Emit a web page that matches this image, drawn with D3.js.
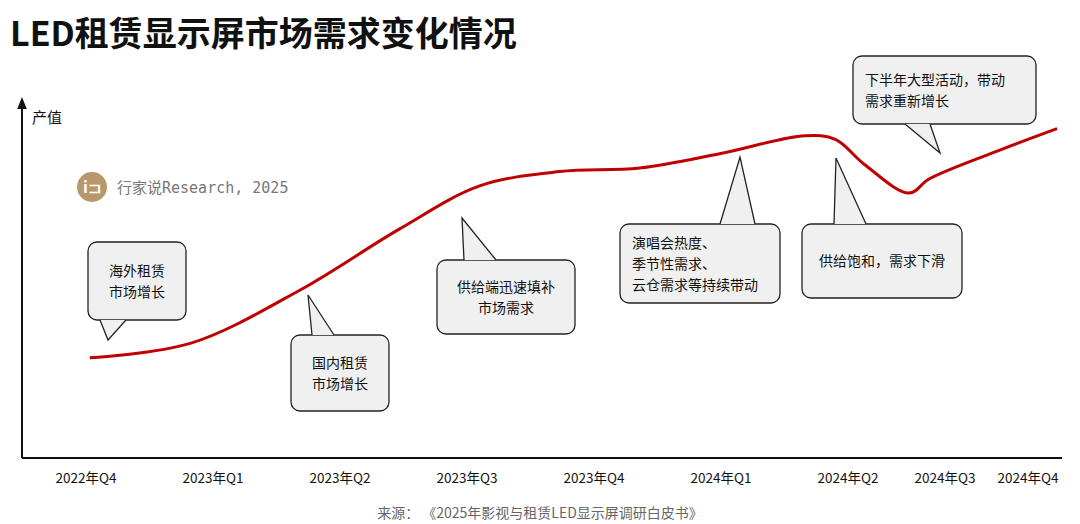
<!DOCTYPE html>
<html><head><meta charset="utf-8">
<script src="https://cdn.jsdelivr.net/npm/d3@7"></script>
<style>body{margin:0;background:#fff;font-family:"Noto Sans CJK SC","Noto Sans",sans-serif}</style>
</head><body><div id="c"></div>
<script>
const quarters = ["2022年Q4","2023年Q1","2023年Q2","2023年Q3","2023年Q4","2024年Q1","2024年Q2","2024年Q3","2024年Q4"];
// quarter index (fractional) and relative output value
const qPos = [0.03,0.82,1.69,2.47,3.1,3.73,4.36,4.99,5.66,5.9,6.17,6.63,6.84,7.66,8.35];
const output = [28,32,47,64,76,80,81,85,90,89,82,74,78,86,92];
const notes = [
  {lines:["海外租赁","市场增长"], box:[88,242,98,78], tail:[[100,320],[126,320],[108,340]]},
  {lines:["国内租赁","市场增长"], box:[291,335,98,76], tail:[[312,335],[334,335],[308,295]]},
  {lines:["供给端迅速填补","市场需求"], box:[437,260,138,74], tail:[[464,260],[496,260],[462,218]]},
  {lines:["演唱会热度、","季节性需求、","云仓需求等持续带动"], box:[620,224,160,79], tail:[[720,224],[755,224],[740,157]]},
  {lines:["供给饱和，需求下滑"], box:[802,224,160,74], tail:[[834,224],[866,224],[836,158]]},
  {lines:["下半年大型活动，带动","需求重新增长"], box:[853,56,183,68], tail:[[905,124],[930,124],[940,153]]}
];
const W=1080,H=524;
const svg=d3.select("#c").append("svg").attr("width",W).attr("height",H);
const x=d3.scaleLinear().domain(d3.range(9)).range([86,213,340,467,594,721,848,945,1028]);
const y=d3.scaleLinear().domain([0,100]).range([458,100]);

svg.append("text").attr("x",10).attr("y",46).attr("font-size",34).attr("font-weight",700)
  .attr("fill","#111").text("LED租赁显示屏市场需求变化情况");

// axes
svg.append("defs").append("marker").attr("id","ar").attr("viewBox","0 0 10 10").attr("refX",5).attr("refY",5)
  .attr("markerWidth",6).attr("markerHeight",8).attr("orient","auto")
  .append("path").attr("d","M0,1L10,5L0,9z").attr("fill","#111");
svg.append("line").attr("x1",22).attr("x2",22).attr("y1",458).attr("y2",103).attr("stroke","#111").attr("stroke-width",2).attr("marker-end","url(#ar)");
svg.append("line").attr("x1",22).attr("x2",1062).attr("y1",458).attr("y2",458).attr("stroke","#111").attr("stroke-width",2);
svg.append("text").attr("x",32).attr("y",123).attr("font-size",15).attr("fill","#111").text("产值");
svg.selectAll(".tk").data(quarters).join("text").attr("x",(d,i)=>x(i)).attr("y",483)
  .attr("text-anchor","middle").attr("font-size",13.5).attr("fill","#111").text(d=>d);

// watermark logo
svg.append("circle").attr("cx",92).attr("cy",187).attr("r",15).attr("fill","#b8976a");
svg.append("text").attr("x",92).attr("y",193).attr("text-anchor","middle").attr("font-size",16).attr("font-weight",700).attr("fill","#fff").text("i⊐");
svg.append("text").attr("x",117).attr("y",193).attr("font-size",15).attr("fill","#777")
  .attr("font-family","'DejaVu Sans Mono','Noto Sans CJK SC',monospace").text("行家说Research, 2025");

// line
svg.append("path").datum(qPos.map((q,i)=>[q,output[i]]))
  .attr("d",d3.line().x(d=>x(d[0])).y(d=>y(d[1])).curve(d3.curveCatmullRom))
  .attr("fill","none").attr("stroke","#c00000").attr("stroke-width",3);

// callouts
notes.forEach(n=>{
  const [bx,by,bw,bh]=n.box, g=svg.append("g");
  g.append("rect").attr("x",bx).attr("y",by).attr("width",bw).attr("height",bh).attr("rx",9)
    .attr("fill","#f0f0f0").attr("stroke","#222").attr("stroke-width",1.3);
  g.append("path").attr("d","M"+n.tail.map(p=>p.join(",")).join("L")+"Z").attr("fill","#f0f0f0");
  g.append("path").attr("d",`M${n.tail[0]}L${n.tail[2]}L${n.tail[1]}`).attr("fill","none").attr("stroke","#222").attr("stroke-width",1.3);
  const lh=21, top=by+bh/2-(n.lines.length-1)*lh/2+5;
  const left = n.lines.length>2 || bw>170;
  n.lines.forEach((t,i)=>g.append("text").attr("x",left?bx+12:bx+bw/2).attr("y",top+i*lh)
    .attr("text-anchor",left?"start":"middle").attr("font-size",14).attr("fill","#111").text(t));
});

svg.append("text").attr("x",540).attr("y",518).attr("text-anchor","middle").attr("font-size",14).attr("fill","#666")
  .text("来源：   《2025年影视与租赁LED显示屏调研白皮书》");
</script></body></html>
